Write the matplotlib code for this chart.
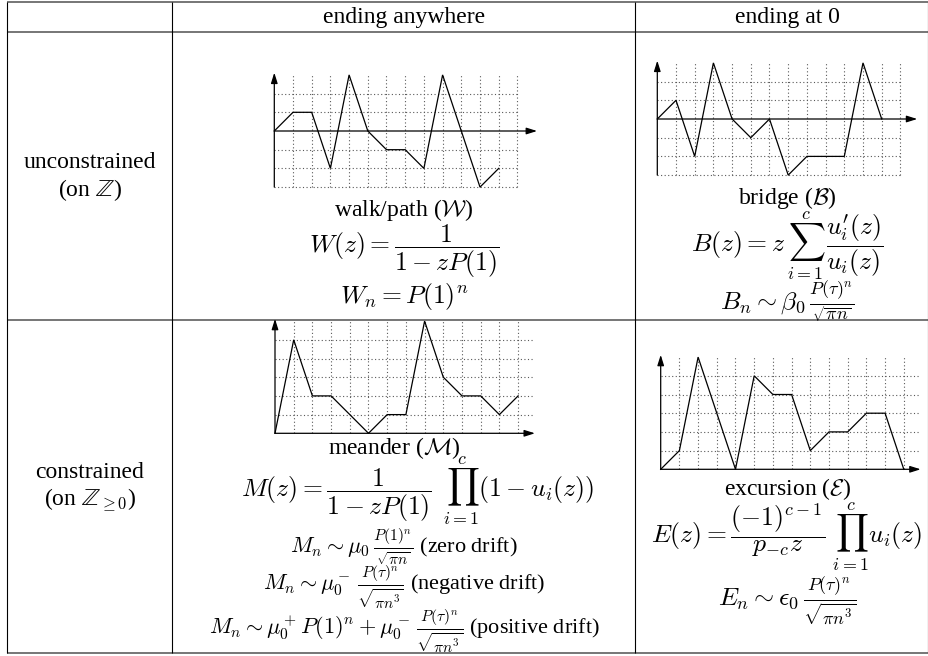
import numpy as np
import matplotlib
matplotlib.use("Agg")
import matplotlib.pyplot as plt

plt.rcParams["font.family"] = "serif"
plt.rcParams["font.serif"] = ["Liberation Serif", "DejaVu Serif"]
plt.rcParams["mathtext.fontset"] = "cm"

W_PX, H_PX, DPI = 929, 656, 100
FS_TEXT = 17
FS_MATH = 18.5
FS_ASYM = 16
UNIT = 18.7  # pixels per lattice step

# lattice path heights at x = 0, 1, 2, ...
walk_y = [0, 1, 1, -2, 3, 0, -1, -1, -2, 3, 0, -3, -2]
bridge_y = [0, 1, -2, 3, 0, -1, 0, -3, -2, -2, -2, 3, 0]
meander_y = [0, 5, 2, 2, 1, 0, 1, 1, 6, 3, 2, 2, 1, 2]
excursion_y = [0, 1, 6, 3, 0, 5, 4, 4, 1, 2, 2, 3, 3, 0]

col_headers = ["ending anywhere", "ending at 0"]
row_headers = [["unconstrained", r"(on $\mathbb{Z}$)"],
               ["constrained", r"(on $\mathbb{Z}_{\geq 0}$)"]]

walk_text = [r"walk/path ($\mathcal{W}$)",
             r"$W(z) = \dfrac{1}{1-zP(1)}$",
             r"$W_n = P(1)^n$"]
bridge_text = [r"bridge ($\mathcal{B}$)",
               r"$B(z) = z\,\sum_{i=1}^{c}\,\dfrac{u_i^{\prime}(z)}{u_i(z)}$",
               r"$B_n \sim \beta_0\,\frac{P(\tau)^n}{\sqrt{\pi n}}$"]
meander_text = [r"meander ($\mathcal{M}$)",
                r"$M(z) = \dfrac{1}{1-zP(1)}\;\,\prod_{i=1}^{c}(1-u_i(z))$",
                r"$M_n \sim \mu_0\,\frac{P(1)^n}{\sqrt{\pi n}}$ (zero drift)",
                r"$M_n \sim \mu_0^-\,\frac{P(\tau)^n}{\sqrt{\pi n^3}}$ (negative drift)",
                r"$M_n \sim \mu_0^+P(1)^n + \mu_0^-\,\frac{P(\tau)^n}{\sqrt{\pi n^3}}$ (positive drift)"]
excursion_text = [r"excursion ($\mathcal{E}$)",
                  r"$E(z) = \dfrac{(-1)^{c-1}}{p_{-c}z}\;\prod_{i=1}^{c}u_i(z)$",
                  r"$E_n \sim \epsilon_0\,\frac{P(\tau)^n}{\sqrt{\pi n^3}}$"]

# table geometry (pixels from top-left)
TABLE_X = [7, 172, 635, 928]
TABLE_Y = [2, 32, 320, 653]
COL_CX = [90, 404, 787]


def lattice_panel(fig, heights, ox, oy, ymin, ymax, grid_xmax, arrow_x):
    """Dotted lattice with axes arrows and a path; origin at pixel (ox, oy)."""
    y_lo, y_hi = ymin - 0.1, ymax + 0.25
    x_lo, x_hi = -0.1, arrow_x + 0.1
    left = (ox + x_lo * UNIT) / W_PX
    bottom = 1 - (oy - y_lo * UNIT) / H_PX
    ax = fig.add_axes([left, bottom, (x_hi - x_lo) * UNIT / W_PX,
                       (y_hi - y_lo) * UNIT / H_PX])
    ax.set_xlim(x_lo, x_hi)
    ax.set_ylim(y_lo, y_hi)
    ax.axis("off")

    dots = dict(color="0.35", lw=0.8, linestyle=(0, (1, 2.2)))
    ax.vlines(np.arange(1, 14), ymin, ymax, **dots)
    hy = [y for y in range(ymin, ymax) if y != 0]
    ax.hlines(hy, 0, grid_xmax, **dots)

    head = dict(arrowstyle="-|>,head_length=0.7,head_width=0.22",
                color="k", lw=0.9, mutation_scale=9, shrinkA=0, shrinkB=0)
    ax.annotate("", xy=(arrow_x, 0), xytext=(0, 0), arrowprops=head)
    ax.annotate("", xy=(0, ymax + 0.12), xytext=(0, ymin), arrowprops=head)

    ax.plot(np.arange(len(heights)), heights, color="k", lw=0.9,
            solid_joinstyle="miter", clip_on=False)
    return ax


fig = plt.figure(figsize=(W_PX / DPI, H_PX / DPI), dpi=DPI)
ax = fig.add_axes([0, 0, 1, 1])
ax.set_xlim(0, W_PX)
ax.set_ylim(H_PX, 0)
ax.axis("off")

ax.hlines(TABLE_Y, TABLE_X[0], TABLE_X[-1], color="0.42", lw=1.3)
ax.vlines(TABLE_X, TABLE_Y[0], TABLE_Y[-1], color="k", lw=0.8)

ax.text(COL_CX[1], 17, col_headers[0], ha="center", va="center", fontsize=FS_TEXT)
ax.text(COL_CX[2], 17, col_headers[1], ha="center", va="center", fontsize=FS_TEXT)

for lines, ys in zip(row_headers, [(163, 190), (472, 500)]):
    for s, y in zip(lines, ys):
        ax.text(COL_CX[0], y, s, ha="center", va="center", fontsize=FS_TEXT)

# (texts, centre x of each line, centre y of each line, font size of each line)
cells = [
    (walk_text, [404, 404, 404], [210, 251, 297], [FS_TEXT, FS_MATH, FS_MATH]),
    (bridge_text, [787, 787, 787], [198, 246, 302], [FS_TEXT, FS_MATH, FS_MATH]),
    (meander_text, [394, 418, 404, 404, 404], [448, 491, 547, 587, 631],
     [FS_TEXT, FS_MATH, FS_ASYM, FS_ASYM, FS_ASYM]),
    (excursion_text, [787, 787, 787], [489, 537, 601], [FS_TEXT, FS_MATH, FS_MATH]),
]
for texts, xs, ys, sizes in cells:
    for s, x, y, fs in zip(texts, xs, ys, sizes):
        ax.text(x, y, s, ha="center", va="center", fontsize=fs)

lattice_panel(fig, walk_y, 274.3, 131, -3, 3, 13, 14.05)
lattice_panel(fig, bridge_y, 657.3, 119, -3, 3, 13, 13.9)
lattice_panel(fig, meander_y, 275, 433.3, 0, 6, 13.8, 13.9)
lattice_panel(fig, excursion_y, 660.7, 469.3, 0, 6, 13.8, 13.9)

fig.savefig("out.png", dpi=DPI)
